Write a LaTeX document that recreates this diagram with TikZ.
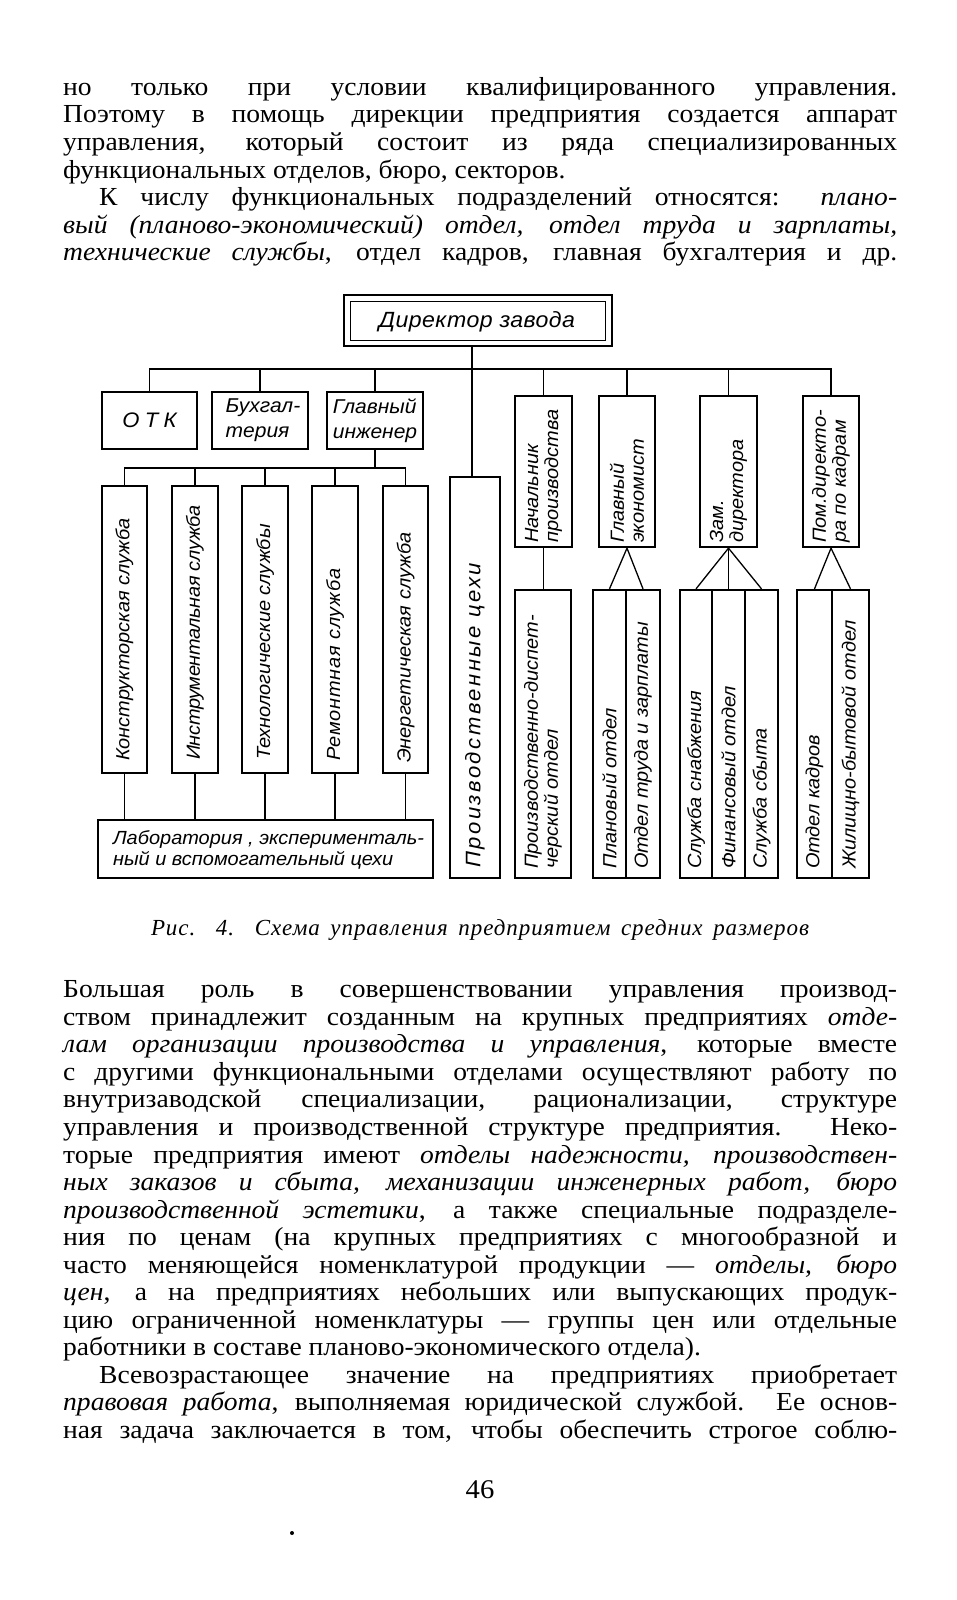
\documentclass[tikz,border=0pt]{standalone}
\usepackage{fontspec}
\setmainfont{Liberation Serif}[FakeStretch=1.06]
\newfontfamily\dfont[FakeStretch=1.05]{Liberation Sans}
\newfontfamily\capfont[LetterSpace=4]{Liberation Serif}
\usetikzlibrary{calc}
\newcommand{\jline}[1]{\makebox[834pt][s]{#1}}
\newcommand{\jlind}[1]{\makebox[798pt][s]{#1}}
\begin{document}
\begin{tikzpicture}[x=1pt,y=-1pt,
  txt/.style={inner sep=0pt, anchor=base west, font=\fontsize{26}{27.5}\selectfont},
  ubox/.style={draw, line width=2.3pt, inner sep=0pt},
  conn/.style={line width=1.3pt},
  dtext/.style={inner sep=0pt, font=\dfont\itshape\fontsize{20}{22}\selectfont},
  vt/.style={inner sep=0pt, rotate=90, anchor=west, align=left, font=\dfont\itshape\fontsize{19}{21}\selectfont},
  vts/.style={inner sep=0pt, rotate=90, anchor=west, align=left, font=\dfont\itshape\fontsize{19}{20}\selectfont}]
\fill[white] (0,0) rectangle (957,1600);
\useasboundingbox (0,0) rectangle (957,1600);

% ---------- upper text ----------
\node[txt] (a1) at (63,95.5) {\jline{но только при условии квалифицированного управления.}};
\node[txt] (a2) at (63,123) {\jline{Поэтому в помощь дирекции предприятия создается аппарат}};
\node[txt] (a3) at (63,150.5) {\jline{управления, который состоит из ряда специализированных}};
\node[txt] (a4) at (63,178) {функциональных отделов, бюро, секторов.};
\node[txt] (a5) at (99,205.5) {\jlind{К числу функциональных подразделений относятся: \textit{плано-}}};
\node[txt] (a6) at (63,233) {\jline{\textit{вый (планово-экономический) отдел, отдел труда и зарплаты,}}};
\node[txt] (a7) at (63,260.5) {\jline{\textit{технические службы}, отдел кадров, главная бухгалтерия и др.}};

% ---------- diagram boxes ----------
\node[ubox, minimum width=268pt, minimum height=51pt] (dirO) at (478,320.5) {};
\node[draw, line width=1pt, inner sep=0pt, minimum width=255pt, minimum height=39pt] (dirI) at (478,320.5) {};
\node[dtext, font=\dfont\itshape\fontsize{22}{24}\selectfont\addfontfeature{LetterSpace=2}] (dirT) at (477,322) {Директор завода};

\node[ubox, minimum width=95pt, minimum height=57pt] (otk) at (149.5,420.5) {};
\node[ubox, minimum width=96pt, minimum height=57pt] (buh) at (260,420.5) {};
\node[ubox, minimum width=96pt, minimum height=57pt] (gi) at (375,420.5) {};
\node[dtext, font=\dfont\itshape\fontsize{21}{22}\selectfont\addfontfeature{LetterSpace=25}] at (otk) {ОТК};
\node[dtext, align=left, font=\dfont\itshape\fontsize{20}{25}\selectfont] at ([xshift=3pt]buh.center) {Бухгал-\\терия};
\node[dtext, align=left, font=\dfont\itshape\fontsize{20}{25}\selectfont] at (gi) {Главный\\инженер};

\node[ubox, minimum width=57pt, minimum height=151pt] (nach) at (543.5,471.5) {};
\node[ubox, minimum width=56pt, minimum height=151pt] (gek) at (627,471.5) {};
\node[ubox, minimum width=57pt, minimum height=151pt] (zam) at (728.5,471.5) {};
\node[ubox, minimum width=56pt, minimum height=151pt] (pom) at (831,471.5) {};
\node[vts] at ([yshift=5pt]nach.south) {Начальник\\производства};
\node[vts] at ([yshift=5pt]gek.south) {Главный\\экономист};
\node[vts] at ([yshift=5pt]zam.south) {Зам.\\директора};
\node[vts] at ([yshift=5pt]pom.south) {Пом.директо-\\ра по кадрам};

\node[ubox, minimum width=45pt, minimum height=287pt] (k1) at (124.5,629.5) {};
\node[ubox, minimum width=46pt, minimum height=287pt] (k2) at (195,629.5) {};
\node[ubox, minimum width=46pt, minimum height=287pt] (k3) at (265,629.5) {};
\node[ubox, minimum width=46pt, minimum height=287pt] (k4) at (335,629.5) {};
\node[ubox, minimum width=45pt, minimum height=287pt] (k5) at (405.5,629.5) {};
\node[vt] at ([yshift=13pt]k1.south) {Конструкторская служба};
\node[vt, font=\dfont\itshape\fontsize{19}{21}\selectfont\addfontfeature{LetterSpace=-2}] at ([yshift=14pt]k2.south) {Инструментальная служба};
\node[vt] at ([yshift=14pt]k3.south) {Технологические службы};
\node[vt, font=\dfont\itshape\fontsize{19}{21}\selectfont\addfontfeature{LetterSpace=4}] at ([yshift=13pt]k4.south) {Ремонтная служба};
\node[vt] at ([yshift=11pt]k5.south) {Энергетическая служба};

\node[ubox, minimum width=335pt, minimum height=58pt] (lab) at (265.5,849) {};
\node[dtext, align=left, font=\dfont\itshape\fontsize{19}{21}\selectfont] at ([xshift=3pt,yshift=-1pt]lab.center) {Лаборатория , эксперименталь-\\ный и вспомогательный цехи};

\node[ubox, minimum width=50pt, minimum height=401pt] (pc) at (475,677.5) {};
\node[vt, font=\dfont\itshape\fontsize{21}{22}\selectfont\addfontfeature{LetterSpace=12}] at ([yshift=11pt]pc.south) {Производственные цехи};

\node[ubox, minimum width=56pt, minimum height=288pt] (pdo) at (543,734) {};
\node[ubox, minimum width=33pt, minimum height=288pt] (plan1) at (609.5,734) {};
\node[ubox, minimum width=34pt, minimum height=288pt] (plan2) at (643,734) {};
\node[ubox, minimum width=32pt, minimum height=288pt] (zam1) at (696,734) {};
\node[ubox, minimum width=33pt, minimum height=288pt] (zam2) at (728.5,734) {};
\node[ubox, minimum width=33pt, minimum height=288pt] (zam3) at (761.5,734) {};
\node[ubox, minimum width=35pt, minimum height=288pt] (pom1) at (814.5,734) {};
\node[ubox, minimum width=37pt, minimum height=288pt] (pom2) at (850.5,734) {};
\node[vts] at ([yshift=10pt]pdo.south) {Производственно-диспет-\\черский отдел};
\node[vts] at ([yshift=10pt]plan1.south) {Плановый отдел};
\node[vts] at ([yshift=10pt]plan2.south) {Отдел труда и зарплаты};
\node[vts] at ([yshift=10pt]zam1.south) {Служба снабжения};
\node[vts] at ([yshift=10pt]zam2.south) {Финансовый отдел};
\node[vts] at ([yshift=10pt]zam3.south) {Служба сбыта};
\node[vts] at ([yshift=10pt]pom1.south) {Отдел кадров};
\node[vts] at ([yshift=10pt]pom2.south) {Жилищно-бытовой отдел};

% ---------- connectors ----------
\coordinate (busL) at (149.5,369);
\coordinate (busB) at (124.5,468);
\draw[conn] (otk.north) -- (otk.north |- busL) -- (pom.north |- busL) -- (pom.north);
\draw[conn] (buh.north) -- (buh.north |- busL);
\draw[conn] (gi.north) -- (gi.north |- busL);
\draw[conn] (nach.north) -- (nach.north |- busL);
\draw[conn] (gek.north) -- (gek.north |- busL);
\draw[conn] (zam.north) -- (zam.north |- busL);
\draw[conn] ([xshift=-3pt]pc.north) -- ([xshift=-3pt]pc.north |- dirO.south);

\draw[conn] (gi.south) -- (gi.south |- busB);
\draw[conn] (k1.north) -- (k1.north |- busB) -- (k5.north |- busB) -- (k5.north);
\draw[conn] (k2.north) -- (k2.north |- busB);
\draw[conn] (k3.north) -- (k3.north |- busB);
\draw[conn] (k4.north) -- (k4.north |- busB);
\foreach \k in {k1,k2,k3,k4,k5} {\draw[conn] (\k.south) -- (\k.south |- lab.north);}

\draw[conn] (nach.south) -- (nach.south |- pdo.north);
\draw[conn] (plan1.north) -- (gek.south) -- (plan2.north);
\draw[conn] (zam1.north) -- (zam.south) -- (zam3.north);
\draw[conn] (zam.south) -- (zam2.north);
\draw[conn] (pom1.north) -- (pom.south) -- (pom2.north);

% ---------- caption ----------
\node[inner sep=0pt, anchor=base, font=\capfont\itshape\fontsize{23}{24}\selectfont] (cap) at (480,935.5) {\makebox[658pt][s]{Рис. 4. Схема управления предприятием средних размеров}};

% ---------- lower text ----------
\node[txt] (b1) at (63,997.7) {\jline{Большая роль в совершенствовании управления производ-}};
\node[txt] (b2) at (63,1025.25) {\jline{ством принадлежит созданным на крупных предприятиях \textit{отде-}}};
\node[txt] (b3) at (63,1052.8) {\jline{\textit{лам организации производства и управления}, которые вместе}};
\node[txt] (b4) at (63,1080.35) {\jline{с другими функциональными отделами осуществляют работу по}};
\node[txt] (b5) at (63,1107.9) {\jline{внутризаводской специализации, рационализации, структуре}};
\node[txt] (b6) at (63,1135.45) {\jline{управления и производственной структуре предприятия. Неко-}};
\node[txt] (b7) at (63,1163) {\jline{торые предприятия имеют \textit{отделы надежности, производствен-}}};
\node[txt] (b8) at (63,1190.55) {\jline{\textit{ных заказов и сбыта, механизации инженерных работ, бюро}}};
\node[txt] (b9) at (63,1218.1) {\jline{\textit{производственной эстетики}, а также специальные подразделе-}};
\node[txt] (b10) at (63,1245.65) {\jline{ния по ценам (на крупных предприятиях с многообразной и}};
\node[txt] (b11) at (63,1273.2) {\jline{часто меняющейся номенклатурой продукции — \textit{отделы, бюро}}};
\node[txt] (b12) at (63,1300.75) {\jline{\textit{цен}, а на предприятиях небольших или выпускающих продук-}};
\node[txt] (b13) at (63,1328.3) {\jline{цию ограниченной номенклатуры — группы цен или отдельные}};
\node[txt] (b14) at (63,1355.85) {работники в составе планово-экономического отдела).};
\node[txt] (b15) at (99,1383.4) {\jlind{Всевозрастающее значение на предприятиях приобретает}};
\node[txt] (b16) at (63,1410.95) {\jline{\textit{правовая работа}, выполняемая юридической службой. Ее основ-}};
\node[txt] (b17) at (63,1438.5) {\jline{ная задача заключается в том, чтобы обеспечить строгое соблю-}};

\node[inner sep=0pt, anchor=base, font=\fontsize{27}{28}\selectfont] (pg) at (480,1498) {46};
\fill (292,1533) circle (2pt);
\end{tikzpicture}
\end{document}
